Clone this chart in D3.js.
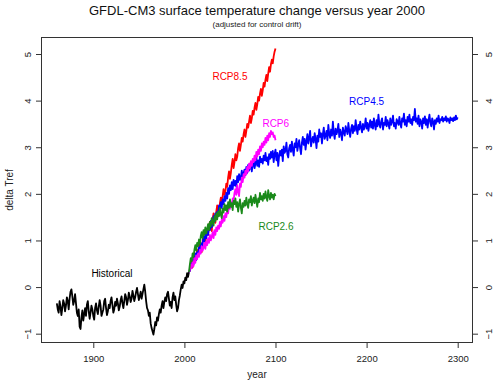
<!DOCTYPE html>
<html>
<head>
<meta charset="utf-8">
<script src="https://cdn.jsdelivr.net/npm/d3@7"></script>
<style>
  html, body { margin: 0; padding: 0; background: #fff; }
  svg { display: block; font-family: "Liberation Sans", Arial, sans-serif; }
</style>
</head>
<body>
<svg id="chart" width="496" height="381"></svg>
<script>
// ---------------- data ----------------
const histStart = 1860;
const historical = [
  -0.35,-0.48,-0.55,-0.30,-0.42,-0.60,-0.45,-0.28,-0.35,-0.52,
  -0.40,-0.22,-0.30,-0.48,-0.25,-0.10,-0.05,-0.20,-0.38,-0.30,
  -0.15,-0.35,-0.55,-0.62,-0.48,-0.85,-0.90,-0.65,-0.50,-0.72,
  -0.58,-0.45,-0.62,-0.38,-0.30,-0.52,-0.68,-0.55,-0.40,-0.48,
  -0.62,-0.70,-0.45,-0.35,-0.50,-0.58,-0.42,-0.28,-0.40,-0.62,
  -0.55,-0.48,-0.30,-0.25,-0.45,-0.60,-0.52,-0.38,-0.45,-0.30,
  -0.22,-0.38,-0.55,-0.48,-0.32,-0.40,-0.25,-0.35,-0.50,-0.42,
  -0.28,-0.20,-0.35,-0.45,-0.30,-0.15,-0.22,-0.38,-0.28,-0.12,
  -0.20,-0.32,-0.25,-0.08,-0.18,-0.30,-0.22,-0.10,-0.02,-0.15,
  -0.28,-0.20,-0.10,-0.25,-0.15,-0.05,0.05,-0.10,-0.30,-0.45,
  -0.50,-0.62,-0.55,-0.78,-0.88,-0.95,-1.02,-0.90,-0.75,-0.82,
  -0.65,-0.72,-0.58,-0.48,-0.55,-0.40,-0.30,-0.45,-0.32,-0.22,
  -0.30,-0.15,-0.10,-0.25,-0.40,-0.32,-0.45,-0.22,-0.12,-0.28,
  -0.20,-0.38,-0.52,-0.45,-0.28,-0.18,-0.05,0.05,-0.02,0.12,
  0.08,0.20,0.15,0.30,0.22,0.32
];

const rcpStart = 2006;
const rcp85 = [
  0.35,0.48,0.55,0.42,0.60,0.72,0.58,0.65,0.80,0.70,
  0.82,0.95,0.85,0.75,0.98,1.10,1.02,0.92,1.15,1.25,
  1.12,1.30,1.40,1.28,1.20,1.45,1.58,1.48,1.38,1.62,
  1.75,1.62,1.55,1.80,1.92,1.82,1.95,2.10,1.98,2.05,
  2.22,2.15,2.35,2.48,2.32,2.45,2.62,2.75,2.55,2.68,
  2.85,2.72,2.80,2.98,3.08,2.92,3.05,3.20,3.12,3.28,
  3.38,3.22,3.35,3.50,3.42,3.55,3.68,3.52,3.62,3.78,
  3.70,3.85,3.95,3.80,3.92,4.08,4.00,4.15,4.25,4.10,
  4.22,4.38,4.30,4.45,4.55,4.42,4.58,4.72,4.62,4.78,
  4.88,4.80,4.95,5.05,5.12
];
const rcp45 = [
  0.35,0.50,0.42,0.58,0.48,0.65,0.72,0.58,0.75,0.68,
  0.85,0.78,0.95,0.82,0.92,1.08,0.98,1.12,1.05,1.20,
  1.12,1.30,1.22,1.42,1.28,1.38,1.52,1.40,1.58,1.48,
  1.62,1.55,1.75,1.62,1.82,1.70,1.88,1.78,1.95,1.85,
  2.02,1.90,2.12,2.00,2.18,2.08,2.25,2.10,2.30,2.18,
  2.28,2.15,2.38,2.25,2.42,2.30,2.35,2.50,2.32,2.45,
  2.52,2.40,2.58,2.45,2.62,2.50,2.55,2.68,2.48,2.62,
  2.70,2.55,2.65,2.78,2.60,2.72,2.58,2.80,2.68,2.75,
  2.65,2.82,2.72,2.88,2.70,2.78,2.62,2.85,2.75,2.90,
  2.78,2.92,2.68,2.85,2.95,2.72,2.88,2.60,2.82,2.92,
  2.82,2.95,2.70,3.02,2.88,2.92,3.10,2.85,2.78,2.98,
  3.05,2.90,3.12,2.95,2.82,3.08,3.00,3.18,2.92,3.05,
  3.15,2.98,2.85,3.10,3.22,3.05,3.18,2.95,3.12,3.28,
  3.08,3.20,3.35,3.02,3.15,3.22,3.10,3.30,3.18,2.98,
  3.25,3.12,3.38,3.22,3.30,3.08,3.28,3.42,3.18,3.25,
  3.35,3.15,3.48,3.28,3.20,3.38,3.25,3.55,3.30,3.18,
  3.40,3.28,3.35,3.50,3.22,3.38,3.30,3.15,3.42,3.32,
  3.25,3.45,3.38,3.28,3.52,3.35,3.22,3.40,3.48,3.30,
  3.45,3.35,3.58,3.40,3.28,3.48,3.38,3.55,3.42,3.32,
  3.50,3.38,3.45,3.62,3.40,3.52,3.35,3.48,3.58,3.42,
  3.55,3.40,3.62,3.48,3.38,3.58,3.45,3.70,3.50,3.42,
  3.55,3.62,3.38,3.52,3.48,3.65,3.45,3.58,3.50,3.40,
  3.62,3.48,3.55,3.68,3.45,3.52,3.40,3.60,3.55,3.48,
  3.65,3.50,3.42,3.62,3.55,3.72,3.48,3.58,3.45,3.65,
  3.55,3.70,3.52,3.60,3.48,3.65,3.58,3.82,3.55,3.62,
  3.50,3.68,3.45,3.60,3.55,3.40,3.62,3.52,3.66,3.48,
  3.60,3.42,3.58,3.70,3.52,3.45,3.62,3.55,3.38,3.58,
  3.50,3.62,3.55,3.68,3.52,3.60,3.58,3.65,3.55,3.62,
  3.58,3.66,3.55,3.62,3.60,3.52,3.64,3.58,3.62,3.56,
  3.64,3.58,3.68,3.60,3.64
];
const rcp6 = [
  0.38,0.48,0.40,0.55,0.45,0.62,0.52,0.68,0.60,0.72,
  0.65,0.80,0.72,0.88,0.78,0.85,0.95,0.82,0.98,0.90,
  1.05,0.95,1.12,1.00,1.08,1.18,1.05,1.22,1.12,1.28,
  1.20,1.32,1.25,1.40,1.30,1.45,1.38,1.52,1.42,1.58,
  1.50,1.65,1.58,1.75,1.68,1.82,1.72,1.90,1.85,2.02,
  2.10,1.98,2.18,2.05,1.95,2.22,2.15,2.35,2.25,2.42,
  2.35,2.50,2.42,2.58,2.48,2.65,2.55,2.70,2.60,2.75,
  2.68,2.82,2.72,2.90,2.80,2.95,2.85,3.02,2.92,3.08,
  3.00,3.12,3.05,3.20,3.10,3.25,3.15,3.30,3.22,3.35,
  3.28,3.32,3.22,3.25,3.15
];
const rcp26 = [
  0.48,0.62,0.55,0.72,0.65,0.80,0.90,0.78,0.95,0.88,
  1.02,0.92,1.10,1.18,1.05,1.22,1.12,1.28,1.15,1.25,
  1.35,1.22,1.40,1.30,1.48,1.38,1.32,1.52,1.42,1.58,
  1.45,1.62,1.52,1.70,1.55,1.48,1.68,1.60,1.78,1.65,
  1.75,1.62,1.82,1.70,1.88,1.72,1.80,1.65,1.85,1.78,
  1.90,1.72,1.82,1.62,1.78,1.88,1.70,1.58,1.80,1.72,
  1.85,1.75,1.92,1.78,1.70,1.88,1.82,1.95,1.75,1.85,
  1.92,1.80,1.98,1.85,1.72,1.90,1.82,2.02,1.88,1.95,
  1.85,2.00,1.90,2.05,1.92,1.85,2.08,1.95,1.88,2.02,
  1.92,1.98,1.88,2.00,1.95
];

const xTicks = [1900, 2000, 2100, 2200, 2300];
const yTicks = [-1, 0, 1, 2, 3, 4, 5];

const seriesNames  = ["Historical", "RCP8.5", "RCP4.5", "RCP6", "RCP2.6"];
const seriesColors = ["#000000", "#ff0000", "#0000ff", "#ff00ff", "#1a8a1a"];
const seriesData   = [historical, rcp85, rcp45, rcp6, rcp26];
const seriesStart  = [histStart, rcpStart, rcpStart, rcpStart, rcpStart];
// label anchor positions in data units (year, value)
const labelPos = [[1920.5, 0.22], [2050, 4.45], [2200, 3.91], [2100.3, 3.44], [2100.5, 1.23]];

// ---------------- layout ----------------
const svg = d3.select("#chart");
const L = 41, R = 473, T = 37, B = 343;
const x = d3.scaleLinear().domain([1842.6, 2316.8]).range([L, R]);
const y = d3.scaleLinear().domain([-1.20, 5.365]).range([B, T]);
const axisColor = "#333";

// titles
svg.append("text").attr("x", (L + R) / 2).attr("y", 15).attr("text-anchor", "middle")
  .attr("font-size", 13).attr("fill", "#111")
  .text("GFDL-CM3 surface temperature change versus year 2000");
svg.append("text").attr("x", (L + R) / 2).attr("y", 27).attr("text-anchor", "middle")
  .attr("font-size", 8).attr("fill", "#222")
  .text("(adjusted for control drift)");

// lines
const line = d3.line().x(d => x(d[0])).y(d => y(d[1]));
seriesData.forEach((arr, i) => {
  const pts = arr.map((v, k) => [seriesStart[i] + k, v]);
  if (i > 0) pts.unshift([2005, historical[historical.length - 1]]);
  svg.append("path").datum(pts).attr("d", line)
    .attr("fill", "none").attr("stroke", seriesColors[i])
    .attr("stroke-width", 1.8).attr("stroke-linejoin", "round");
});

// box
svg.append("rect").attr("x", L + 0.5).attr("y", T + 0.5)
  .attr("width", R - L - 1).attr("height", B - T - 1)
  .attr("fill", "none").attr("stroke", axisColor).attr("stroke-width", 1);

function styleAxis(g) {
  g.select(".domain").remove();
  g.selectAll(".tick line").attr("stroke", axisColor);
  g.selectAll("text").attr("fill", "#222").attr("font-size", 9.5)
    .attr("font-family", "'Liberation Sans', Arial, sans-serif");
}

// bottom axis
const gx = svg.append("g").attr("transform", `translate(0,${B})`)
  .call(d3.axisBottom(x).tickValues(xTicks).tickFormat(d3.format("d")).tickSize(5).tickPadding(7));
styleAxis(gx);

// left axis
const gl = svg.append("g").attr("transform", `translate(${L},0)`)
  .call(d3.axisLeft(y).tickValues(yTicks).tickFormat(d3.format("d")).tickSize(5));
styleAxis(gl);
gl.selectAll(".tick text").attr("x", null).attr("dy", null).attr("y", null)
  .attr("text-anchor", "middle").attr("transform", "translate(-10,0) rotate(-90)");

// right axis
const gr = svg.append("g").attr("transform", `translate(${R},0)`)
  .call(d3.axisRight(y).tickValues(yTicks).tickFormat(d3.format("d")).tickSize(5));
styleAxis(gr);
gr.selectAll(".tick text").attr("x", null).attr("dy", null).attr("y", null)
  .attr("text-anchor", "middle").attr("transform", "translate(19,0) rotate(-90)");

// axis titles
svg.append("text").attr("x", (L + R) / 2).attr("y", 378).attr("text-anchor", "middle")
  .attr("font-size", 10).attr("fill", "#222").text("year");
svg.append("text").attr("transform", `translate(13,${(T + B) / 2}) rotate(-90)`)
  .attr("text-anchor", "middle").attr("font-size", 10).attr("fill", "#222").text("delta Tref");

// series labels
seriesNames.forEach((name, i) => {
  svg.append("text").attr("x", x(labelPos[i][0])).attr("y", y(labelPos[i][1]))
    .attr("text-anchor", "middle").attr("font-size", 10)
    .attr("fill", seriesColors[i]).text(name);
});
</script>
</body>
</html>
